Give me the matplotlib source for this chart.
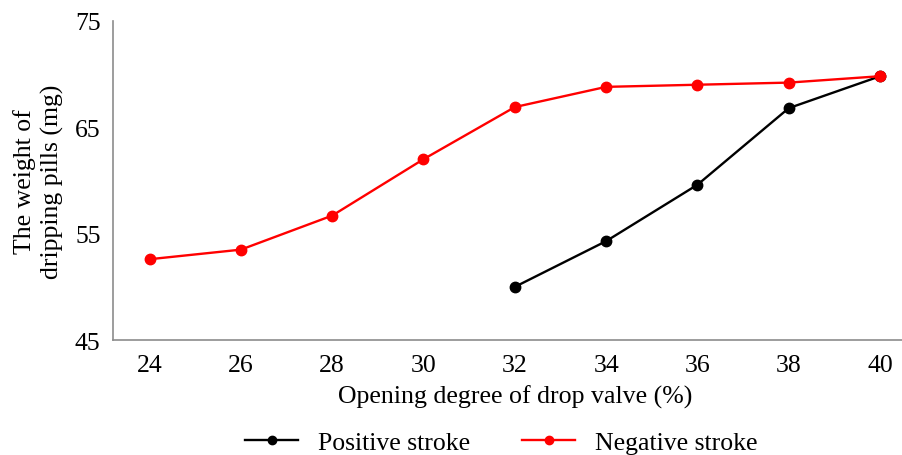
import numpy as np
import matplotlib.pyplot as plt
from matplotlib.lines import Line2D

plt.rcParams['font.family'] = ['Liberation Serif', 'DejaVu Serif']

# data
openings = [24, 26, 28, 30, 32, 34, 36, 38, 40]
negative = [52.6, 53.5, 56.7, 62.0, 66.9, 68.8, 69.0, 69.2, 69.8]
pos_openings = [32, 34, 36, 38, 40]
positive = [50.0, 54.3, 59.6, 66.8, 69.8]

idx = {v: i for i, v in enumerate(openings)}

fig = plt.figure(figsize=(9.02, 4.56), dpi=100)
ax = fig.add_axes([0.1253, 0.252, 0.8747, 0.700])

ax.plot([idx[v] for v in pos_openings], positive, color='black', lw=1.7,
        marker='o', ms=7.5, label='Positive stroke')
ax.plot(range(len(openings)), negative, color='#ff0000', lw=1.7,
        marker='o', ms=7.5, label='Negative stroke')

ax.set_xlim(-0.4, 8.24)
ax.set_ylim(45, 75)
ax.set_yticks([45, 55, 65, 75])
ax.set_xticks(range(len(openings)))
ax.set_xticklabels([str(v) for v in openings])

for s in ['top', 'right']:
    ax.spines[s].set_visible(False)
for s in ['left', 'bottom']:
    ax.spines[s].set_color('#8c8c8c')
    ax.spines[s].set_linewidth(1.2)

ax.tick_params(length=0, labelsize=18.5, pad=10)
ax.tick_params(axis='y', pad=9)
ax.set_xlabel('Opening degree of drop valve (%)', fontsize=18.6)
ax.xaxis.set_label_coords(0.5095, -0.138)
ax.set_ylabel('The weight of\ndripping pills (mg)', fontsize=18.5, labelpad=8,
              linespacing=1.25)

handles = [Line2D([], [], color='black', lw=1.7, marker='o', ms=6),
           Line2D([], [], color='#ff0000', lw=1.7, marker='o', ms=6)]
fig.legend(handles, ['Positive stroke', 'Negative stroke'], loc='center',
           bbox_to_anchor=(0.556, 0.028), ncol=2, frameon=False, fontsize=18.5,
           handlelength=2.06, columnspacing=2.02, handletextpad=0.78)

fig.savefig('out.png', dpi=100)
